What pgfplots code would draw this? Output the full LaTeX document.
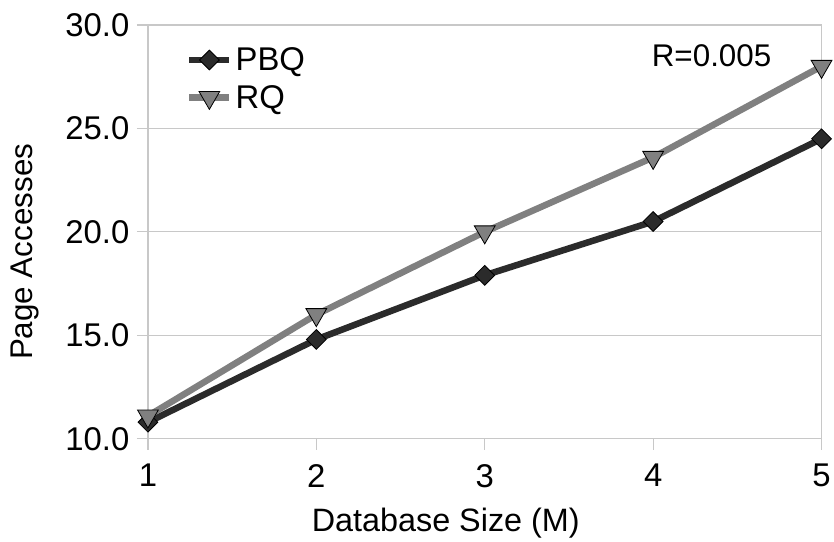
\documentclass[border=0pt]{standalone}
\usepackage{fontspec}
\setmainfont{Liberation Sans}
\usepackage{pgfplots}
\pgfplotsset{compat=1.18}

\definecolor{pbqcol}{HTML}{2B2B2B}
\definecolor{rqcol}{HTML}{808080}
\definecolor{gridcol}{HTML}{C8C8C8}

\newcommand{\tickfont}{\fontsize{33}{38}\selectfont}
\newcommand{\labelfont}{\fontsize{31.5}{36}\selectfont}
\newcommand{\xlabelfont}{\fontsize{32.5}{37}\selectfont}

\begin{document}
\begin{tikzpicture}
\begin{axis}[
  scale only axis,
  width=674bp, height=414bp,
  xmin=1, xmax=5, ymin=10, ymax=30,
  xtick={1,2,3,4,5},
  ytick={10,15,20,25,30},
  tick pos=left,
  tick align=outside,
  major tick length=11bp,
  ymajorgrids,
  grid style={gridcol, line width=1.2pt},
  axis line style={gridcol, line width=1.2pt},
  tick style={gridcol, line width=1.2pt},
  /pgf/number format/assume math mode=true,
  ticklabel style={font=\tickfont, text=black},
  xticklabel style={yshift=-11bp},
  yticklabel style={xshift=-4bp, /pgf/number format/.cd, fixed, fixed zerofill, precision=1},
  label style={font=\labelfont},
  xlabel={Database Size (M)},
  ylabel={Page Accesses},
  xlabel style={font=\xlabelfont, at={([xshift=-39bp, yshift=-84bp]axis description cs:0.5,0)}, anchor=center},
  ylabel style={at={([xshift=-123bp, yshift=-20bp]axis description cs:0,0.5)}, anchor=center},
  legend style={draw=none, fill=none, font=\tickfont,
    at={(0.052,0.955)}, anchor=north west, row sep=9bp, column sep=1bp},
  legend cell align=left,
  legend image code/.code={
    \draw[#1, mark repeat=2, mark phase=2]
      plot coordinates {(0bp,0bp) (20bp,0bp) (40bp,0bp)};
  },
  clip=false,
]
\addplot[pbqcol, line width=6.5bp, mark=square*,
  mark options={rotate=45, fill=pbqcol, draw=black, line width=0.8bp},
  mark size=7bp]
  coordinates {(1,10.8) (2,14.8) (3,17.9) (4,20.5) (5,24.5)};
\addlegendentry{PBQ}
\addplot[rqcol, line width=6.5bp, mark=triangle*,
  mark options={rotate=180, fill=rqcol, draw=black, line width=0.8bp},
  mark size=12bp]
  coordinates {(1,11.1) (2,16.0) (3,20.0) (4,23.6) (5,28.0)};
\addlegendentry{RQ}
\node[font=\labelfont, anchor=center] at (axis cs:4.347,28.5) {R=0.005};
\end{axis}
\path[use as bounding box] (-148bp,-99bp) rectangle (686bp,439bp);
\end{tikzpicture}
\end{document}
